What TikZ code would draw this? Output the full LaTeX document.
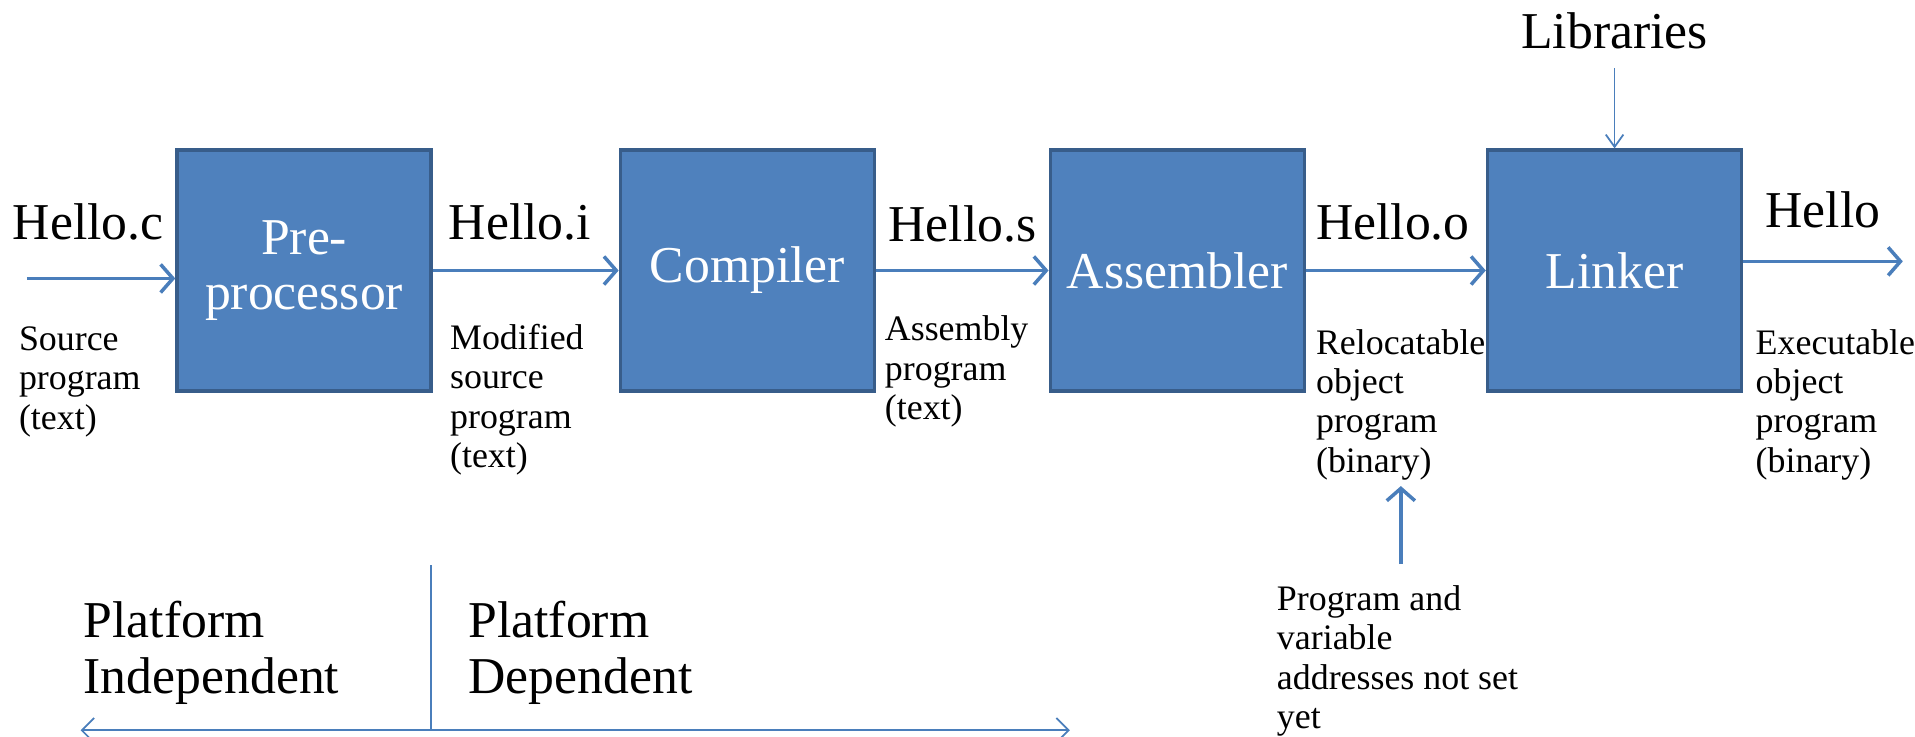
\documentclass[tikz,border=0pt]{standalone}
\usepackage{fontspec}
\setmainfont{Liberation Serif}
\usetikzlibrary{arrows.meta,positioning}
\definecolor{boxblue}{HTML}{4F81BD}
\definecolor{boxedge}{HTML}{385D8A}
\definecolor{flowblue}{HTML}{4A7EBB}
\def\BigText{\fontsize{14.7}{15.8}\selectfont}
\def\SmallText{\fontsize{10.2}{11.2}\selectfont}

\begin{document}
\begin{tikzpicture}[% one unit is one pixel of the drawing, y runs downwards
					x=0.012213cm,y=-0.012213cm,
					every node/.style={
						inner sep=0pt,
						align=left			% so that "\\" breaks the lines
						},
					stage/.style={rectangle,draw=boxedge,line width=1pt,fill=boxblue,
						text=white,align=center,font=\BigText,
						minimum width=2.54cm,minimum height=2.406cm},
					file/.style={font=\BigText,anchor=base west},
					note/.style={font=\SmallText,anchor=north west},
					flow/.style={draw=flowblue,line width=1pt,
						-{Straight Barb[length=3.5pt,width=8pt]}},
					thinflow/.style={draw=flowblue,line width=0.5pt,
						-{Straight Barb[length=3.5pt,width=5pt]}},
					thinline/.style={draw=flowblue,line width=0.5pt}
					]
\useasboundingbox (0,0) rectangle (1568,603);

% the four stages
\node[stage](pre) at (249,221.5){Pre-\\processor};
\node[stage](comp) at (612,221.5){Compiler};
\node[stage](asm) at (964,221.5){Assembler};
\node[stage](link) at (1322,221.5){Linker};

% file names
\node[file](fc) at (10,196){Hello.c};
\node[file](fi) at (367,196){Hello.i};
\node[file](fs) at (727,198){Hello.s};
\node[file](fo) at (1077,196){Hello.o};
\node[file](fx) at (1445,186){Hello};
\node[file,anchor=base](lib) at (1322,40){Libraries};

% what each file holds
\node[note](nc) at (15,267){Source\\program\\(text)};
\node[note](ni) at (368,265){Modified\\source\\program\\(text)};
\node[note](ns) at (724,258){Assembly\\program\\(text)};
\node[note](no) at (1077,269){Relocatable\\object\\program\\(binary)};
\node[note](nx) at (1437,269){Executable\\object\\program\\(binary)};
\node[note](addr) at (1045,479){Program and\\variable\\addresses not set\\yet};

\node[file,anchor=north west](pind) at (68,492){Platform\\Independent};
\node[file,anchor=north west](pdep) at (383,492){Platform\\Dependent};

\coordinate (src) at (22,228);
\coordinate (out) at (1558,214);
\coordinate (addrtop) at (1147,462);
\coordinate (addrhead) at (1147,398);
\coordinate (divtop) at (353,463);
\coordinate (spanL) at (66,598);
\coordinate (spanR) at (876,598);

\path
(src)edge [flow]	(src -| pre.west)
(pre)edge [flow]	(comp)
(comp)edge [flow]	(asm)
(asm)edge [flow]	(link)
(link.east |- out)edge [flow]	(out)
(addrtop)edge [flow]	(addrhead)
;
\draw[thinflow,shorten <=0.18cm] (lib) -- (link);

% platform split
\draw[thinline] (divtop) -- (divtop |- spanL);
\draw[thinline,{Straight Barb[length=3.5pt,width=7pt]}-{Straight Barb[length=3.5pt,width=7pt]}] (spanL) -- (spanR);
\end{tikzpicture}
\end{document}
